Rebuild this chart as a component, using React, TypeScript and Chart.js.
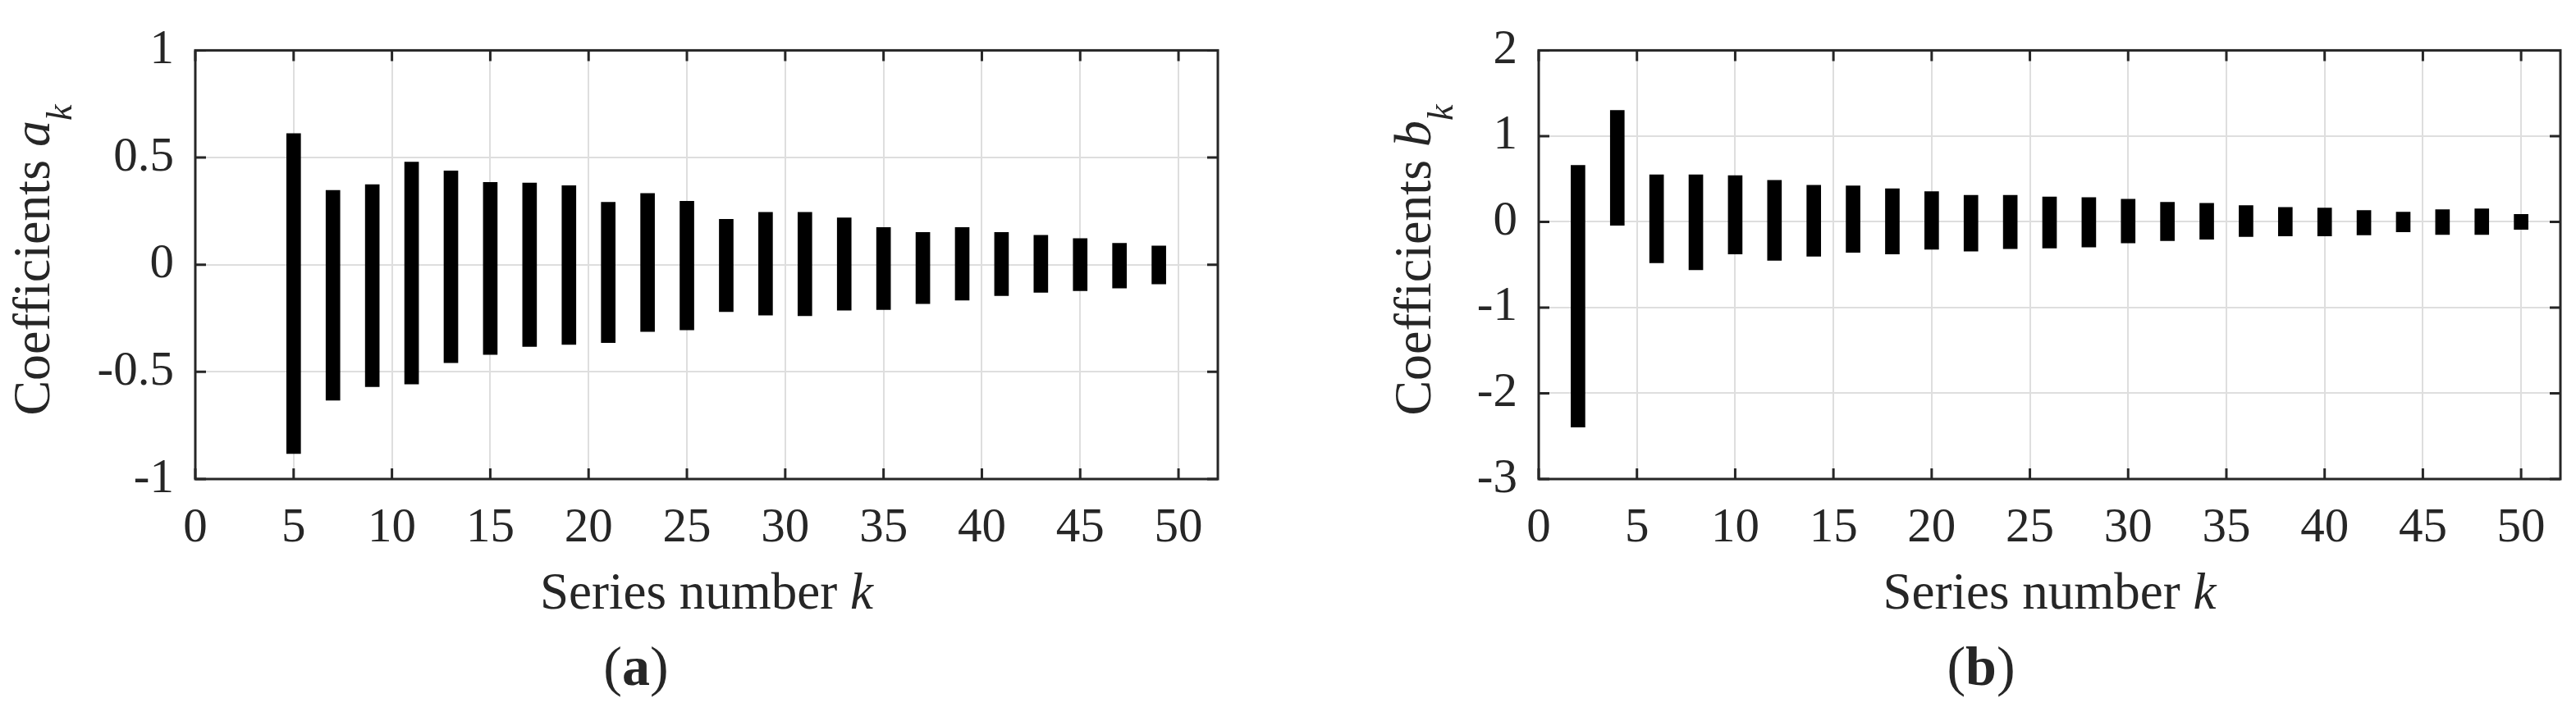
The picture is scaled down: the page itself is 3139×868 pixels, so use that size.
import React, { useEffect, useRef } from "react";
import { Chart, registerables } from "chart.js";

Chart.register(...registerables);

const FONT = "'Liberation Serif', 'Times New Roman', Times, serif";
const INK = "#262626";
const GRID = "#dedede";
const H = 868;
const TOP = 46;
const BOTTOM = 584;

// Panel (a): odd series numbers
const kA = [5, 7, 9, 11, 13, 15, 17, 19, 21, 23, 25, 27, 29, 31, 33, 35, 37, 39, 41, 43, 45, 47, 49];
const aUpper = [0.612, 0.347, 0.374, 0.479, 0.438, 0.384, 0.381, 0.369, 0.291, 0.332, 0.296, 0.212, 0.244, 0.244, 0.219, 0.174, 0.151, 0.174, 0.151, 0.137, 0.122, 0.1, 0.088];
const aLower = [-0.881, -0.632, -0.569, -0.557, -0.457, -0.419, -0.382, -0.372, -0.363, -0.312, -0.304, -0.219, -0.235, -0.238, -0.212, -0.209, -0.182, -0.165, -0.144, -0.129, -0.121, -0.109, -0.09];

// Panel (b): even series numbers
const kB = [2, 4, 6, 8, 10, 12, 14, 16, 18, 20, 22, 24, 26, 28, 30, 32, 34, 36, 38, 40, 42, 44, 46, 48, 50];
const bUpper = [0.658, 1.301, 0.548, 0.548, 0.54, 0.485, 0.426, 0.419, 0.386, 0.353, 0.309, 0.309, 0.29, 0.283, 0.265, 0.228, 0.217, 0.191, 0.169, 0.162, 0.132, 0.114, 0.143, 0.151, 0.088];
const bLower = [-2.393, -0.04, -0.478, -0.559, -0.375, -0.449, -0.401, -0.357, -0.375, -0.32, -0.342, -0.312, -0.305, -0.294, -0.246, -0.221, -0.202, -0.173, -0.165, -0.165, -0.154, -0.118, -0.147, -0.147, -0.088];

// Tick labels
const xTickValues = [0, 5, 10, 15, 20, 25, 30, 35, 40, 45, 50];
const aTickValues = [-1, -0.5, 0, 0.5, 1];
const bTickValues = [-3, -2, -1, 0, 1, 2];

type Seg = { t: string; font: string; dy?: number };

function drawSegs(ctx: CanvasRenderingContext2D, segs: Seg[], cx: number, baseline: number) {
  let total = 0;
  const widths = segs.map((s) => {
    ctx.font = s.font;
    const w = ctx.measureText(s.t).width;
    total += w;
    return w;
  });
  let x = cx - total / 2;
  segs.forEach((s, i) => {
    ctx.font = s.font;
    ctx.fillText(s.t, x, baseline + (s.dy || 0));
    x += widths[i];
  });
}

type PanelProps = {
  left: number;
  width: number;
  chartLeft: number;
  chartRight: number;
  ks: number[];
  upper: number[];
  lower: number[];
  yMin: number;
  yMax: number;
  yTicks: number[];
  letter: string;
  tag: string;
  yTitleX: number;
  tagX: number;
};

function Panel(p: PanelProps) {
  const ref = useRef<HTMLCanvasElement | null>(null);

  useEffect(() => {
    const canvas = ref.current;
    if (!canvas) return;

    const framePlugin = {
      id: "frameAndTitles",
      afterDraw(chart: any) {
        const { ctx, chartArea, scales } = chart;
        const { left, right, top, bottom } = chartArea;
        const xs = scales.x;
        const ys = scales.y;
        ctx.save();
        ctx.strokeStyle = INK;
        ctx.lineWidth = 3;
        ctx.strokeRect(left, top, right - left, bottom - top);
        const tl = 13;
        ctx.beginPath();
        for (const t of xs.ticks) {
          const px = xs.getPixelForValue(t.value);
          ctx.moveTo(px, bottom);
          ctx.lineTo(px, bottom - tl);
          ctx.moveTo(px, top);
          ctx.lineTo(px, top + tl);
        }
        for (const t of ys.ticks) {
          const py = ys.getPixelForValue(t.value);
          ctx.moveTo(left, py);
          ctx.lineTo(left + tl, py);
          ctx.moveTo(right, py);
          ctx.lineTo(right - tl, py);
        }
        ctx.stroke();

        ctx.fillStyle = INK;
        ctx.textBaseline = "alphabetic";
        ctx.textAlign = "left";
        // x title
        drawSegs(
          ctx,
          [
            { t: "Series number ", font: `63px ${FONT}` },
            { t: "k", font: `italic 63px ${FONT}` },
          ],
          (left + right) / 2,
          742
        );
        // panel tag
        drawSegs(
          ctx,
          [
            { t: "(", font: `68px ${FONT}` },
            { t: p.tag, font: `bold 68px ${FONT}` },
            { t: ")", font: `68px ${FONT}` },
          ],
          p.tagX,
          835
        );
        // y title (rotated)
        ctx.translate(p.yTitleX, 317);
        ctx.rotate(-Math.PI / 2);
        drawSegs(
          ctx,
          [
            { t: "Coefficients ", font: `64px ${FONT}` },
            { t: p.letter, font: `italic 64px ${FONT}` },
            { t: "k", font: `italic 44px ${FONT}`, dy: 27 },
          ],
          0,
          0
        );
        ctx.restore();
      },
    };

    const tickFont = { family: FONT, size: 59 };

    const chart = new Chart(canvas, {
      type: "bar",
      data: {
        datasets: [
          {
            data: p.ks.map((k, i) => ({ x: k, y: [p.lower[i], p.upper[i]] })) as any,
            backgroundColor: "#000000",
            borderWidth: 0,
            barThickness: 17,
            grouped: false,
          } as any,
        ],
      },
      options: {
        responsive: false,
        animation: false,
        events: [],
        layout: { padding: { left: 0, top: TOP, right: p.width - p.chartRight, bottom: 0 } },
        plugins: {
          legend: { display: false },
          tooltip: { enabled: false },
          title: { display: false },
        },
        scales: {
          x: {
            type: "linear",
            min: 0,
            max: 52,
            offset: false,
            grid: { offset: false, color: GRID, lineWidth: 2, drawTicks: false },
            border: { display: false },
            ticks: {
              font: tickFont,
              color: INK,
              padding: 25,
              maxRotation: 0,
              autoSkip: false,
              callback: (v: any) => String(v),
            },
            afterBuildTicks: (s: any) => {
              s.ticks = xTickValues.map((v) => ({ value: v }));
            },
            afterFit: (s: any) => {
              s.height = H - BOTTOM;
            },
          },
          y: {
            type: "linear",
            min: p.yMin,
            max: p.yMax,
            grid: { color: GRID, lineWidth: 2, drawTicks: false },
            border: { display: false },
            ticks: {
              font: tickFont,
              color: INK,
              padding: 26,
              callback: (v: any) => String(v),
            },
            afterBuildTicks: (s: any) => {
              s.ticks = p.yTicks.map((v) => ({ value: v }));
            },
            afterFit: (s: any) => {
              s.width = p.chartLeft;
            },
          },
        },
      } as any,
      plugins: [framePlugin],
    });

    return () => chart.destroy();
  }, []);

  return (
    <canvas
      ref={ref}
      width={p.width}
      height={H}
      style={{ position: "absolute", left: p.left, top: 0, width: p.width, height: H }}
    />
  );
}

export default function App() {
  useEffect(() => {
    document.body.style.margin = "0";
    document.body.style.background = "#ffffff";
  }, []);

  return (
    <div style={{ position: "relative", width: 3139, height: H, background: "#ffffff", overflow: "hidden" }}>
      <Panel
        left={0}
        width={1569}
        chartLeft={238}
        chartRight={1484}
        ks={kA}
        upper={aUpper}
        lower={aLower}
        yMin={-1}
        yMax={1}
        yTicks={aTickValues}
        letter="a"
        tag="a"
        yTitleX={60}
        tagX={775}
      />
      <Panel
        left={1569}
        width={1570}
        chartLeft={306}
        chartRight={1551}
        ks={kB}
        upper={bUpper}
        lower={bLower}
        yMin={-3}
        yMax={2}
        yTicks={bTickValues}
        letter="b"
        tag="b"
        yTitleX={174}
        tagX={845}
      />
    </div>
  );
}
